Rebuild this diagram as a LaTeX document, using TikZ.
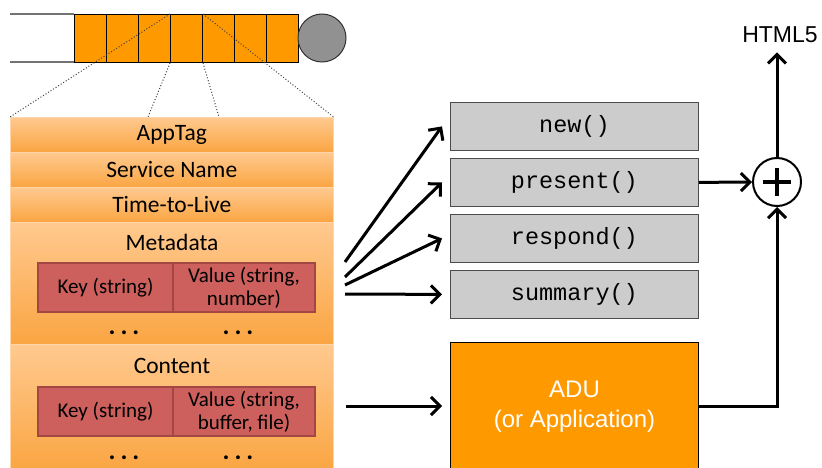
\documentclass[tikz,border=0pt]{standalone}
\usepackage{fontspec}
\setmainfont{Carlito}
\setmonofont{Liberation Mono}
\newfontfamily\arialfont{Liberation Sans}
\usetikzlibrary{arrows.meta,positioning}

\definecolor{qorange}{RGB}{255,153,0}
\definecolor{rowtop}{RGB}{255,201,143}
\definecolor{rowbot}{RGB}{250,165,66}
\definecolor{rowline}{RGB}{255,214,170}
\definecolor{keyred}{RGB}{205,96,92}
\definecolor{keyedge}{RGB}{163,71,68}
\definecolor{fngray}{RGB}{204,204,204}
\definecolor{ballgray}{RGB}{145,145,145}

\tikzset{
  cell/.style={draw=black, line width=1pt, fill=qorange, minimum width=32pt,
    minimum height=48pt, inner sep=0pt, anchor=north west},
  row/.style={top color=rowtop, bottom color=rowbot, draw=rowline, line width=0.6pt,
    minimum width=323pt, inner sep=0pt, anchor=north west},
  rowtext/.style={font=\fontsize{23.5}{27}\selectfont},
  keybox/.style={draw=keyedge, line width=2pt, fill=keyred, minimum height=49pt,
    inner sep=0pt, anchor=north west, align=center, font=\fontsize{21}{23}\selectfont},
  fnbox/.style={draw=black!70, line width=0.8pt, fill=fngray, minimum width=248pt,
    minimum height=48pt, inner sep=0pt, anchor=north west, font=\ttfamily\fontsize{23.5}{27}\selectfont},
  dots/.style={inner sep=0pt, font=\bfseries\fontsize{26}{28}\selectfont},
  arr/.style={line width=3pt, -{Straight Barb[length=9pt, width=18pt]}},
}

\begin{document}
\begin{tikzpicture}[x=1pt, y=-1pt]
\useasboundingbox (0,0) rectangle (822,468);

% queue with its ball
\draw[black!55, line width=1.5pt] (10,14) -- (74,14) (10,62) -- (74,62);
\foreach \i in {0,...,6}
  \node[cell] (c\i) at (74+32*\i,14) {};
\draw[black!80, line width=1pt, fill=ballgray] (322,38) circle (24pt);

% packet fields
\node[row, minimum height=35pt] (apptag) at (10,117) {};
\node[row, minimum height=35pt] (svc) at (10,152) {};
\node[row, minimum height=35pt] (ttl) at (10,187) {};
\node[row, minimum height=122pt] (meta) at (10,222) {};
\node[row, minimum height=126pt] (content) at (10,344) {};

\node[rowtext] at (apptag) {AppTag};
\node[rowtext] at (svc) {Service Name};
\node[rowtext] at (ttl) {Time-to-Live};
\node[rowtext] (metalabel) at (172,242) {Metadata};
\node[rowtext] (contentlabel) at (172,366) {Content};

\node[keybox, minimum width=135pt] (mkey) at (37,262) {Key (string)};
\node[keybox, minimum width=142pt] (mval) at (172,262) {Value (string,\\number)};
\node[keybox, minimum width=135pt] (ckey) at (37,386) {Key (string)};
\node[keybox, minimum width=142pt] (cval) at (172,386) {Value (string,\\buffer, file)};

\node[dots] (md1) at (124,333) {.\hspace{5pt}.\hspace{5pt}.};
\node[dots] (md2) at (238,333) {.\hspace{5pt}.\hspace{5pt}.};
\node[dots] (cd1) at (124,458) {.\hspace{5pt}.\hspace{5pt}.};
\node[dots] (cd2) at (238,458) {.\hspace{5pt}.\hspace{5pt}.};

% zoom lines from one queue cell
\draw[black!75, dotted, line width=1pt] (c3.north west) -- (apptag.north west);
\draw[black!75, dotted, line width=1pt] (c3.north east) -- (apptag.north east);
\draw[black!75, dotted, line width=1pt] (c3.south west) -- (148,117);
\draw[black!75, dotted, line width=1pt] (c3.south east) -- (219,117);

% functions
\node[fnbox] (fnnew) at (450,102) {new()};
\node[fnbox] (fnpresent) at (450,158) {present()};
\node[fnbox] (fnrespond) at (450,214) {respond()};
\node[fnbox] (fnsummary) at (450,270) {summary()};

\node[draw=black, line width=1pt, fill=qorange, minimum width=248pt, minimum height=128pt,
  inner sep=0pt, anchor=north west, align=center, text=white,
  font=\arialfont\fontsize{24}{30}\selectfont] (adu) at (450,342) {ADU\\(or Application)};

\node[draw=black, line width=2pt, circle, minimum size=48pt, inner sep=0pt] (plus) at (777,182) {};
\draw[line width=4.5pt] ([xshift=-14pt]plus.center) -- ([xshift=14pt]plus.center)
  ([yshift=-14pt]plus.center) -- ([yshift=14pt]plus.center);

\node[font=\arialfont\fontsize{23}{27}\selectfont, outer ysep=6pt] (html) at (780,35) {HTML5};

% arrows
\coordinate (s1) at (345,262);
\coordinate (s2) at (345,277);
\coordinate (s3) at (345,285);
\coordinate (s4) at (345,294);
\coordinate (s5) at (346,406);
\draw[arr] (s1) -- ([xshift=-8pt]fnnew.west);
\draw[arr] (s2) -- ([xshift=-8pt]fnpresent.west);
\draw[arr] (s3) -- ([xshift=-8pt]fnrespond.west);
\draw[arr] (s4) -- ([xshift=-8pt]fnsummary.west);
\draw[arr] (s5) -- ([xshift=-8pt]s5 -| adu.west);

\draw[arr] (fnpresent.east) -- (plus.west);
\draw[arr] (adu.east |- s5) -| (plus.south);
\draw[arr] (plus.north) -- (plus.north |- html.south);
\end{tikzpicture}
\end{document}
